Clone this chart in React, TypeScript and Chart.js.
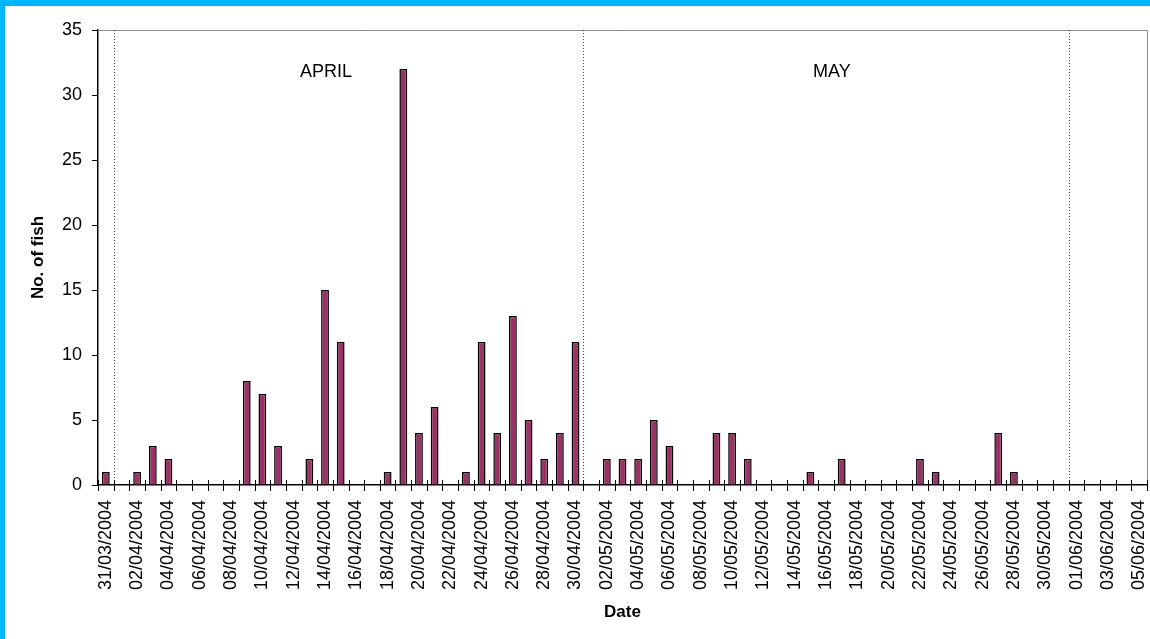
import { useEffect, useRef } from 'react';
import { Chart, registerables } from 'chart.js';

Chart.register(...registerables);

// Daily categories (31/03/2004 .. 05/06/2004)
const dateLabels: string[] = [
  '31/03/2004',
  '01/04/2004', '02/04/2004', '03/04/2004', '04/04/2004', '05/04/2004', '06/04/2004',
  '07/04/2004', '08/04/2004', '09/04/2004', '10/04/2004', '11/04/2004', '12/04/2004',
  '13/04/2004', '14/04/2004', '15/04/2004', '16/04/2004', '17/04/2004', '18/04/2004',
  '19/04/2004', '20/04/2004', '21/04/2004', '22/04/2004', '23/04/2004', '24/04/2004',
  '25/04/2004', '26/04/2004', '27/04/2004', '28/04/2004', '29/04/2004', '30/04/2004',
  '01/05/2004', '02/05/2004', '03/05/2004', '04/05/2004', '05/05/2004', '06/05/2004',
  '07/05/2004', '08/05/2004', '09/05/2004', '10/05/2004', '11/05/2004', '12/05/2004',
  '13/05/2004', '14/05/2004', '15/05/2004', '16/05/2004', '17/05/2004', '18/05/2004',
  '19/05/2004', '20/05/2004', '21/05/2004', '22/05/2004', '23/05/2004', '24/05/2004',
  '25/05/2004', '26/05/2004', '27/05/2004', '28/05/2004', '29/05/2004', '30/05/2004',
  '31/05/2004',
  '01/06/2004', '02/06/2004', '03/06/2004', '04/06/2004', '05/06/2004',
];

// Number of fish per day
const fishCounts: number[] = [
  1,
  0, 1, 3, 2, 0, 0, 0, 0, 8, 7, 3, 0, 2, 15, 11, 0, 0, 1, 32, 4, 6, 0, 1, 11, 4, 13, 5, 2, 4, 11,
  0, 2, 2, 2, 5, 3, 0, 0, 4, 4, 2, 0, 0, 0, 1, 0, 2, 0, 0, 0, 0, 2, 1, 0, 0, 0, 4, 1, 0, 0, 0,
  0, 0, 0, 0, 0,
];

// Month separators (last category index of each period) and month captions
const monthEndIndices: number[] = [0, 30, 61];
const monthNames: string[] = ['APRIL', 'MAY'];
const monthCaptionIndex: number[] = [14.06, 46.37];
const monthCaptionValue = 31.8;

const yTicks = { min: 0, max: 35, step: 5 };

const FONT = "'Liberation Sans', Arial, sans-serif";

const decorPlugin = {
  id: 'decor',
  beforeDraw(chart: any) {
    const { ctx, width, height } = chart;
    ctx.save();
    ctx.fillStyle = '#ffffff';
    ctx.fillRect(0, 0, width, height);
    ctx.fillStyle = '#00B6FF';
    ctx.fillRect(0, 0, width, 6);
    ctx.fillRect(0, 0, 5, height);
    ctx.restore();
  },
  beforeDatasetsDraw(chart: any) {
    const { ctx, chartArea } = chart;
    const xs = chart.scales.x;
    const { left, right, top, bottom } = chartArea;
    ctx.save();
    // plot frame top/right
    ctx.strokeStyle = '#8c8c8c';
    ctx.lineWidth = 1;
    ctx.beginPath();
    ctx.moveTo(left, Math.round(top) + 0.5);
    ctx.lineTo(Math.round(right) + 0.5, Math.round(top) + 0.5);
    ctx.lineTo(Math.round(right) + 0.5, bottom);
    ctx.stroke();
    // month separators (dotted)
    ctx.strokeStyle = '#444444';
    ctx.setLineDash([1, 2]);
    monthEndIndices.forEach((i) => {
      const x = Math.round((xs.getPixelForValue(i) + xs.getPixelForValue(i + 1)) / 2) + 0.5;
      ctx.beginPath();
      ctx.moveTo(x, top);
      ctx.lineTo(x, bottom);
      ctx.stroke();
    });
    ctx.setLineDash([]);
    // month captions
    ctx.fillStyle = '#000000';
    ctx.font = `18px ${FONT}`;
    ctx.textAlign = 'center';
    ctx.textBaseline = 'middle';
    const ys = chart.scales.y;
    monthNames.forEach((name, k) => {
      ctx.fillText(name, xs.getPixelForValue(monthCaptionIndex[k]), ys.getPixelForValue(monthCaptionValue));
    });
    ctx.restore();
  },
  afterDraw(chart: any) {
    const { ctx, chartArea } = chart;
    const { left, right, bottom } = chartArea;
    const n = dateLabels.length;
    ctx.save();
    ctx.strokeStyle = '#000000';
    ctx.lineWidth = 1;
    for (let i = 0; i <= n; i++) {
      const x = Math.round(left + (i * (right - left)) / n) + 0.5;
      ctx.beginPath();
      ctx.moveTo(x, bottom - 5);
      ctx.lineTo(x, bottom + 6);
      ctx.stroke();
    }
    ctx.restore();
  },
};

export default function App() {
  const canvasRef = useRef<HTMLCanvasElement | null>(null);

  useEffect(() => {
    document.body.style.margin = '0';
    document.body.style.overflow = 'hidden';
    const canvas = canvasRef.current;
    if (!canvas) return;
    const chart = new Chart(canvas, {
      type: 'bar',
      data: {
        labels: dateLabels,
        datasets: [
          {
            label: 'No. of fish',
            data: fishCounts,
            backgroundColor: '#993366',
            borderColor: '#000000',
            borderWidth: (c: any) => (c.raw ? 1.5 : 0),
            borderSkipped: 'start',
            barPercentage: 0.5,
            categoryPercentage: 1,
          },
        ],
      },
      options: {
        animation: false,
        responsive: false,
        maintainAspectRatio: false,
        devicePixelRatio: 1,
        layout: { padding: { top: 30, right: 3, left: 0, bottom: 0 } },
        plugins: {
          legend: { display: false },
          tooltip: { enabled: false },
        },
        scales: {
          x: {
            offset: true,
            grid: { display: false, drawTicks: false, offset: true },
            border: { display: true, color: '#000000', width: 1.5 },
            ticks: {
              autoSkip: false,
              maxRotation: 90,
              minRotation: 90,
              padding: 15,
              color: '#000000',
              font: { family: FONT, size: 18 },
              callback: (_v: any, i: number) => (i % 2 === 0 ? dateLabels[i] : ''),
            },
            title: {
              display: true,
              text: 'Date',
              color: '#000000',
              font: { family: FONT, size: 17, weight: 'bold' },
              padding: { top: 0, bottom: 16 },
            },
            afterFit: (s: any) => {
              s.height = 154;
              s.paddingLeft = 0;
              s.paddingRight = 0;
            },
          },
          y: {
            min: yTicks.min,
            max: yTicks.max,
            grid: { display: true, drawOnChartArea: false, drawTicks: true, tickLength: 6, color: '#000000' },
            border: { display: true, color: '#000000', width: 1.5 },
            ticks: {
              stepSize: yTicks.step,
              padding: 10,
              color: '#000000',
              font: { family: FONT, size: 18 },
            },
            title: {
              display: true,
              text: 'No. of fish',
              color: '#000000',
              font: { family: FONT, size: 17, weight: 'bold' },
              padding: { top: 28, bottom: 0 },
            },
            afterFit: (s: any) => {
              s.width = 98;
              s.paddingTop = 0;
              s.paddingBottom = 0;
            },
          },
        },
      },
      plugins: [decorPlugin],
    });
    return () => chart.destroy();
  }, []);

  return <canvas ref={canvasRef} width={1150} height={639} style={{ display: 'block', width: 1150, height: 639 }} />;
}
